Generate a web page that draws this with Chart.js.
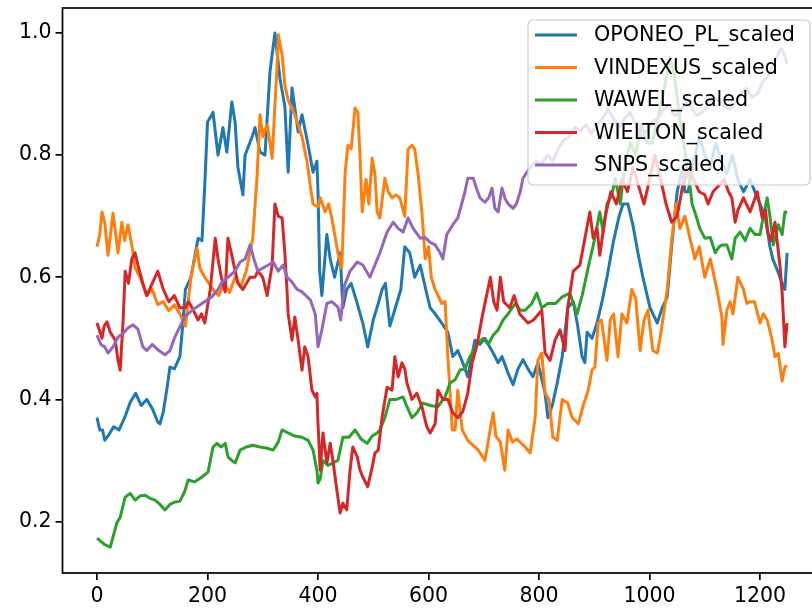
<!DOCTYPE html>
<html>
<head>
<meta charset="utf-8">
<script src="https://cdn.jsdelivr.net/npm/chart.js@4.4.0/dist/chart.umd.min.js"></script>
<style>
  html, body { margin: 0; padding: 0; background: #fff; overflow: hidden; }
  canvas { display: block; }
</style>
</head>
<body>
<canvas id="scaledChart" width="840" height="614"></canvas>
<script>
// Series names / colours (matplotlib tab10)
const seriesNames = ["OPONEO_PL_scaled", "VINDEXUS_scaled", "WAWEL_scaled", "WIELTON_scaled", "SNPS_scaled"];
const seriesColors = ["#1f77b4", "#ff7f0e", "#2ca02c", "#d62728", "#9467bd"];

// [row index, scaled value]
const oponeo = [
  [0, 0.37], [5, 0.35], [10, 0.35], [14, 0.333], [20, 0.34], [30, 0.355], [40, 0.35], [50, 0.37],
  [60, 0.395], [70, 0.41], [80, 0.39], [90, 0.40], [100, 0.385], [110, 0.363], [114, 0.36], [120, 0.38],
  [127, 0.42], [132, 0.453], [140, 0.45], [150, 0.47], [155, 0.52], [160, 0.58], [170, 0.60], [183, 0.664],
  [190, 0.66], [195, 0.75], [200, 0.854], [210, 0.87], [219, 0.80], [228, 0.845], [235, 0.805], [244, 0.887],
  [250, 0.854], [255, 0.78], [264, 0.735], [268, 0.80], [280, 0.828], [286, 0.845], [295, 0.805], [304, 0.80],
  [313, 0.936], [322, 1.0], [331, 0.926], [340, 0.88], [346, 0.772], [353, 0.91], [364, 0.838], [371, 0.866],
  [382, 0.817], [391, 0.772], [398, 0.79], [400, 0.74], [403, 0.61], [407, 0.57], [416, 0.67], [422, 0.63],
  [430, 0.60], [440, 0.64], [445, 0.55], [452, 0.58], [460, 0.59], [470, 0.56], [481, 0.525], [490, 0.486],
  [500, 0.53], [510, 0.56], [516, 0.58], [522, 0.59], [530, 0.52], [540, 0.55], [550, 0.58], [557, 0.65],
  [566, 0.64], [575, 0.60], [585, 0.62], [595, 0.58], [603, 0.55], [612, 0.54], [624, 0.525], [635, 0.51],
  [644, 0.47], [653, 0.48], [662, 0.46], [671, 0.437], [684, 0.497], [693, 0.49], [702, 0.50], [717, 0.476],
  [726, 0.46], [733, 0.47], [744, 0.443], [753, 0.424], [762, 0.45], [771, 0.465], [780, 0.45], [789, 0.437],
  [798, 0.46], [811, 0.41], [816, 0.37], [824, 0.39], [833, 0.427], [842, 0.47], [852, 0.55], [862, 0.56],
  [870, 0.52], [878, 0.47], [883, 0.46], [887, 0.51], [896, 0.50], [905, 0.525], [914, 0.56], [923, 0.60],
  [935, 0.66], [945, 0.70], [952, 0.72], [961, 0.72], [970, 0.685], [979, 0.64], [988, 0.60], [1001, 0.55],
  [1014, 0.525], [1023, 0.55], [1032, 0.568], [1040, 0.65], [1050, 0.74], [1060, 0.78], [1064, 0.74], [1070, 0.74],
  [1080, 0.79], [1090, 0.83], [1100, 0.80], [1110, 0.78], [1120, 0.82], [1130, 0.79], [1140, 0.77], [1150, 0.80],
  [1160, 0.76], [1170, 0.74], [1182, 0.76], [1195, 0.73], [1200, 0.72], [1209, 0.70], [1218, 0.65], [1223, 0.63],
  [1232, 0.61], [1240, 0.59], [1245, 0.58], [1249, 0.64]
];

const vindexus = [
  [0, 0.65], [5, 0.67], [9, 0.707], [14, 0.69], [20, 0.636], [29, 0.705], [34, 0.67], [38, 0.64],
  [45, 0.69], [50, 0.66], [56, 0.686], [63, 0.653], [69, 0.615], [78, 0.60], [90, 0.57], [100, 0.58],
  [110, 0.555], [120, 0.56], [130, 0.545], [140, 0.555], [150, 0.54], [160, 0.52], [170, 0.60], [181, 0.648],
  [186, 0.615], [195, 0.60], [210, 0.58], [220, 0.57], [230, 0.59], [240, 0.575], [250, 0.60], [260, 0.585],
  [270, 0.61], [282, 0.664], [290, 0.77], [295, 0.866], [300, 0.83], [308, 0.85], [317, 0.795], [326, 0.948],
  [328, 0.997], [335, 0.964], [340, 0.915], [346, 0.89], [358, 0.866], [364, 0.85], [371, 0.83], [380, 0.79],
  [386, 0.75], [391, 0.72], [400, 0.715], [404, 0.73], [413, 0.707], [419, 0.72], [425, 0.697], [436, 0.64],
  [443, 0.615], [449, 0.77], [454, 0.816], [460, 0.81], [467, 0.877], [472, 0.87], [476, 0.80], [480, 0.707],
  [487, 0.76], [492, 0.72], [498, 0.795], [503, 0.77], [507, 0.707], [512, 0.697], [521, 0.762], [527, 0.74],
  [534, 0.73], [541, 0.735], [548, 0.73], [557, 0.70], [563, 0.81], [570, 0.816], [575, 0.81], [581, 0.77],
  [588, 0.707], [594, 0.63], [600, 0.65], [605, 0.60], [612, 0.58], [624, 0.557], [630, 0.56], [635, 0.47],
  [643, 0.35], [648, 0.35], [653, 0.415], [661, 0.35], [671, 0.333], [690, 0.317], [702, 0.30], [717, 0.378],
  [722, 0.34], [730, 0.33], [738, 0.284], [744, 0.35], [752, 0.33], [760, 0.335], [775, 0.322], [784, 0.312],
  [793, 0.37], [798, 0.464], [805, 0.476], [811, 0.41], [818, 0.40], [825, 0.338], [833, 0.333], [842, 0.40],
  [852, 0.394], [860, 0.37], [871, 0.36], [880, 0.39], [889, 0.415], [896, 0.448], [901, 0.453], [907, 0.525],
  [913, 0.53], [923, 0.464], [929, 0.53], [935, 0.54], [943, 0.47], [950, 0.54], [959, 0.525], [968, 0.58],
  [975, 0.565], [983, 0.48], [990, 0.53], [997, 0.546], [1006, 0.48], [1014, 0.476], [1019, 0.50], [1024, 0.53],
  [1032, 0.58], [1040, 0.66], [1048, 0.72], [1055, 0.68], [1064, 0.70], [1073, 0.665], [1082, 0.63], [1090, 0.65],
  [1100, 0.60], [1110, 0.63], [1122, 0.58], [1131, 0.535], [1133, 0.49], [1140, 0.546], [1146, 0.56], [1151, 0.54],
  [1160, 0.60], [1170, 0.58], [1176, 0.557], [1182, 0.56], [1190, 0.56], [1200, 0.525], [1206, 0.54], [1213, 0.53],
  [1222, 0.497], [1227, 0.47], [1233, 0.475], [1240, 0.43], [1245, 0.453], [1249, 0.455]
];

const wawel = [
  [0, 0.173], [14, 0.162], [24, 0.158], [29, 0.175], [36, 0.198], [42, 0.207], [51, 0.24], [60, 0.246],
  [69, 0.235], [78, 0.242], [87, 0.243], [96, 0.238], [105, 0.235], [114, 0.228], [123, 0.219], [132, 0.228],
  [141, 0.232], [150, 0.233], [159, 0.25], [165, 0.268], [177, 0.265], [190, 0.273], [201, 0.281], [210, 0.322],
  [217, 0.328], [225, 0.322], [232, 0.328], [237, 0.306], [244, 0.30], [250, 0.296], [259, 0.317], [270, 0.322],
  [282, 0.325], [295, 0.322], [308, 0.32], [319, 0.317], [328, 0.33], [335, 0.35], [346, 0.345], [358, 0.34],
  [371, 0.338], [382, 0.333], [391, 0.317], [398, 0.284], [400, 0.263], [404, 0.27], [409, 0.30], [418, 0.292],
  [427, 0.296], [436, 0.30], [445, 0.338], [456, 0.338], [467, 0.35], [478, 0.335], [489, 0.328], [498, 0.34],
  [507, 0.345], [512, 0.35], [521, 0.37], [530, 0.40], [542, 0.40], [554, 0.404], [561, 0.388], [570, 0.37],
  [579, 0.378], [590, 0.394], [603, 0.39], [617, 0.388], [630, 0.404], [639, 0.427], [648, 0.432], [657, 0.448],
  [666, 0.45], [675, 0.47], [688, 0.49], [699, 0.50], [708, 0.49], [717, 0.505], [726, 0.514], [735, 0.53],
  [744, 0.54], [757, 0.557], [766, 0.546], [775, 0.546], [787, 0.557], [796, 0.574], [805, 0.55], [816, 0.557],
  [830, 0.557], [842, 0.568], [856, 0.574], [869, 0.54], [878, 0.57], [890, 0.62], [900, 0.66], [910, 0.707],
  [916, 0.674], [923, 0.72], [932, 0.735], [938, 0.762], [947, 0.72], [955, 0.78], [965, 0.82], [975, 0.80],
  [985, 0.85], [995, 0.82], [1005, 0.82], [1015, 0.86], [1025, 0.90], [1037, 0.96], [1045, 0.93], [1055, 0.86],
  [1065, 0.80], [1072, 0.76], [1077, 0.72], [1082, 0.707], [1091, 0.68], [1100, 0.664], [1110, 0.665], [1119, 0.64],
  [1126, 0.65], [1131, 0.653], [1140, 0.653], [1149, 0.63], [1155, 0.664], [1164, 0.674], [1173, 0.66], [1182, 0.68],
  [1191, 0.67], [1200, 0.67], [1204, 0.69], [1213, 0.73], [1218, 0.70], [1224, 0.653], [1233, 0.686], [1240, 0.67],
  [1245, 0.707], [1249, 0.705]
];

const wielton = [
  [0, 0.525], [9, 0.50], [13, 0.52], [18, 0.527], [24, 0.51], [33, 0.497], [38, 0.464], [42, 0.448],
  [47, 0.525], [51, 0.61], [57, 0.59], [63, 0.63], [69, 0.64], [74, 0.62], [83, 0.59], [90, 0.57],
  [100, 0.59], [110, 0.61], [120, 0.58], [130, 0.56], [140, 0.57], [150, 0.55], [159, 0.55], [166, 0.56],
  [172, 0.55], [183, 0.53], [189, 0.54], [195, 0.525], [205, 0.58], [214, 0.664], [219, 0.63], [225, 0.60],
  [232, 0.576], [237, 0.664], [243, 0.64], [255, 0.59], [264, 0.58], [277, 0.60], [286, 0.60], [291, 0.61],
  [300, 0.60], [308, 0.57], [317, 0.62], [322, 0.72], [328, 0.70], [335, 0.697], [340, 0.64], [344, 0.576],
  [346, 0.54], [353, 0.497], [358, 0.535], [364, 0.497], [371, 0.448], [376, 0.486], [382, 0.47], [389, 0.415],
  [395, 0.404], [398, 0.41], [400, 0.36], [404, 0.284], [409, 0.345], [416, 0.296], [422, 0.328], [427, 0.30],
  [434, 0.252], [440, 0.214], [445, 0.23], [452, 0.219], [458, 0.284], [463, 0.322], [471, 0.306], [476, 0.284],
  [481, 0.273], [490, 0.257], [498, 0.289], [503, 0.312], [509, 0.317], [516, 0.371], [525, 0.42], [534, 0.415],
  [539, 0.47], [545, 0.437], [552, 0.46], [557, 0.45], [561, 0.427], [570, 0.40], [579, 0.41], [588, 0.388],
  [597, 0.355], [603, 0.345], [612, 0.36], [617, 0.415], [626, 0.40], [635, 0.40], [644, 0.378], [653, 0.37],
  [662, 0.38], [671, 0.41], [679, 0.46], [688, 0.49], [697, 0.535], [706, 0.574], [712, 0.60], [718, 0.56],
  [724, 0.546], [730, 0.60], [736, 0.56], [747, 0.55], [755, 0.57], [765, 0.54], [780, 0.525], [790, 0.53],
  [805, 0.546], [811, 0.476], [820, 0.464], [829, 0.497], [838, 0.514], [847, 0.48], [852, 0.55], [862, 0.61],
  [874, 0.62], [883, 0.664], [892, 0.707], [898, 0.664], [905, 0.68], [910, 0.636], [920, 0.70], [930, 0.74],
  [940, 0.72], [950, 0.76], [960, 0.74], [970, 0.78], [980, 0.75], [990, 0.72], [1000, 0.76], [1010, 0.80],
  [1020, 0.76], [1030, 0.72], [1040, 0.69], [1050, 0.70], [1060, 0.75], [1070, 0.78], [1080, 0.76], [1090, 0.74],
  [1100, 0.735], [1106, 0.72], [1115, 0.74], [1125, 0.75], [1135, 0.76], [1143, 0.74], [1149, 0.73], [1155, 0.69],
  [1160, 0.71], [1170, 0.73], [1182, 0.707], [1195, 0.74], [1204, 0.697], [1210, 0.71], [1214, 0.674], [1220, 0.66],
  [1227, 0.69], [1236, 0.62], [1240, 0.576], [1245, 0.486], [1249, 0.525]
];

const snps = [
  [0, 0.505], [7, 0.49], [14, 0.486], [20, 0.476], [29, 0.486], [38, 0.502], [47, 0.508], [56, 0.517],
  [65, 0.522], [74, 0.515], [83, 0.486], [90, 0.48], [100, 0.49], [112, 0.48], [123, 0.473], [132, 0.48],
  [141, 0.502], [150, 0.519], [159, 0.535], [172, 0.546], [190, 0.557], [208, 0.568], [219, 0.58], [226, 0.592],
  [237, 0.60], [250, 0.61], [259, 0.625], [268, 0.63], [277, 0.653], [284, 0.63], [291, 0.61], [300, 0.615],
  [310, 0.62], [319, 0.625], [328, 0.61], [337, 0.62], [344, 0.60], [353, 0.592], [362, 0.58], [371, 0.576],
  [386, 0.563], [395, 0.54], [400, 0.486], [407, 0.514], [416, 0.557], [425, 0.56], [436, 0.551], [441, 0.53],
  [448, 0.587], [458, 0.61], [471, 0.625], [481, 0.62], [494, 0.60], [503, 0.62], [512, 0.64], [525, 0.674],
  [536, 0.69], [545, 0.68], [554, 0.674], [563, 0.697], [572, 0.68], [585, 0.664], [594, 0.665], [603, 0.657],
  [612, 0.653], [621, 0.64], [626, 0.63], [633, 0.67], [644, 0.686], [653, 0.697], [660, 0.72], [666, 0.74],
  [671, 0.762], [681, 0.762], [687, 0.745], [693, 0.73], [702, 0.723], [709, 0.73], [715, 0.746], [720, 0.713],
  [726, 0.707], [733, 0.746], [738, 0.73], [744, 0.72], [753, 0.713], [759, 0.72], [766, 0.74], [771, 0.762],
  [778, 0.772], [785, 0.78], [795, 0.79], [805, 0.785], [815, 0.80], [825, 0.79], [835, 0.81], [845, 0.825],
  [855, 0.83], [865, 0.845], [875, 0.84], [885, 0.85], [895, 0.835], [905, 0.85], [915, 0.86], [925, 0.875],
  [935, 0.86], [945, 0.845], [955, 0.86], [965, 0.87], [975, 0.85], [985, 0.83], [995, 0.84], [1005, 0.855],
  [1015, 0.86], [1025, 0.875], [1035, 0.88], [1045, 0.865], [1055, 0.87], [1065, 0.885], [1075, 0.88], [1085, 0.865],
  [1095, 0.87], [1105, 0.88], [1115, 0.895], [1125, 0.89], [1135, 0.88], [1145, 0.875], [1155, 0.885], [1165, 0.90],
  [1175, 0.91], [1185, 0.895], [1195, 0.90], [1205, 0.92], [1215, 0.93], [1222, 0.945], [1230, 0.96], [1238, 0.975],
  [1244, 0.965], [1249, 0.95]
];

const xTicks = [0, 200, 400, 600, 800, 1000, 1200];
const yTicks = [0.2, 0.4, 0.6, 0.8, 1.0];

const allSeries = [oponeo, vindexus, wawel, wielton, snps];
const tickFont = { family: "'DejaVu Sans'", size: 20.5 };

// axes box drawn over the lines, like matplotlib spines
const framePlugin = {
  id: "frame",
  afterDatasetsDraw(chart) {
    const { ctx, chartArea: a } = chart;
    ctx.save();
    ctx.strokeStyle = "#000";
    ctx.lineWidth = 1.7;
    ctx.strokeRect(a.left, a.top, a.right - a.left, a.bottom - a.top);
    ctx.restore();
  }
};

// boxed legend in the upper right corner of the axes
const legendPlugin = {
  id: "boxLegend",
  afterDraw(chart) {
    const { ctx, chartArea: a } = chart;
    const right = a.right - 11.5;
    const left = 528;
    const top = a.top + 12;
    const height = 165;
    ctx.save();
    ctx.beginPath();
    ctx.roundRect(left, top, right - left, height, 5);
    ctx.fillStyle = "rgba(255,255,255,0.8)";
    ctx.fill();
    ctx.strokeStyle = "#cccccc";
    ctx.lineWidth = 1.2;
    ctx.stroke();
    ctx.font = "20.7px 'DejaVu Sans'";
    ctx.textBaseline = "middle";
    ctx.textAlign = "left";
    seriesNames.forEach((name, i) => {
      const y = top + 15 + i * 32.5;
      ctx.strokeStyle = seriesColors[i];
      ctx.lineWidth = 3;
      ctx.beginPath();
      ctx.moveTo(left + 7, y);
      ctx.lineTo(left + 49, y);
      ctx.stroke();
      ctx.fillStyle = "#000";
      ctx.fillText(name, left + 66, y + 1);
    });
    ctx.restore();
  }
};

// keep the axes box where the reference has it: no extra room for edge labels
const noEdgePadding = s => {
  s.paddingTop = 0;
  s.paddingBottom = 0;
  s.paddingLeft = 0;
  s.paddingRight = 0;
};

const ctx = document.getElementById("scaledChart").getContext("2d");
new Chart(ctx, {
  type: "line",
  data: {
    datasets: allSeries.map((pairs, i) => ({
      label: seriesNames[i],
      data: pairs.map(p => ({ x: p[0], y: p[1] })),
      borderColor: seriesColors[i],
      backgroundColor: seriesColors[i],
      borderWidth: 3,
      borderJoinStyle: "round",
      pointRadius: 0,
      tension: 0,
      fill: false,
      order: allSeries.length - 1 - i
    }))
  },
  options: {
    responsive: false,
    animation: false,
    events: [],
    layout: { padding: { top: 8, right: 840 - 821.6, left: 0, bottom: 0 } },
    plugins: { legend: { display: false }, tooltip: { enabled: false } },
    scales: {
      x: {
        type: "linear",
        min: -62.45,
        max: 1311.45,
        afterBuildTicks: s => { s.ticks = xTicks.map(v => ({ value: v })); },
        afterFit: s => { s.height = 41; noEdgePadding(s); },
        grid: { drawOnChartArea: false, drawTicks: true, tickLength: 7, color: "#000", lineWidth: 1.7 },
        border: { display: false },
        ticks: { color: "#000", font: tickFont, padding: 4, maxRotation: 0, autoSkip: false, callback: v => String(v) }
      },
      y: {
        type: "linear",
        min: 0.1157,
        max: 1.0409,
        afterBuildTicks: s => { s.ticks = yTicks.map(v => ({ value: v })); },
        afterFit: s => { s.width = 62.5; noEdgePadding(s); },
        grid: { drawOnChartArea: false, drawTicks: true, tickLength: 7, color: "#000", lineWidth: 1.7 },
        border: { display: false },
        ticks: { color: "#000", font: tickFont, padding: 4, callback: v => v.toFixed(1) }
      }
    }
  },
  plugins: [framePlugin, legendPlugin]
});
</script>
</body>
</html>
